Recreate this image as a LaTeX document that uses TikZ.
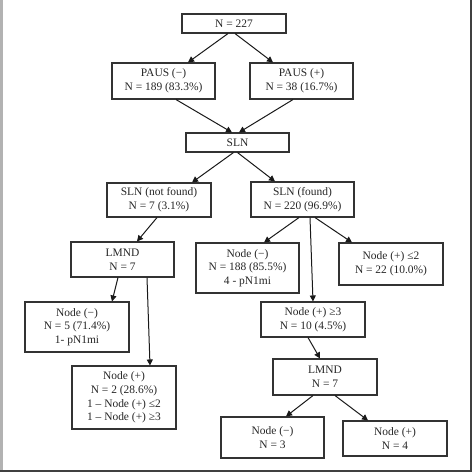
\documentclass[tikz,border=0pt]{standalone}
\usepackage{fontspec}
\setmainfont{Liberation Serif}
\usetikzlibrary{arrows.meta}
\begin{document}
\begin{tikzpicture}[x=1bp,y=-1bp,
  box/.style={draw=black!80,line width=1.1bp,inner sep=0pt,align=center,
    text=black!85,font=\fontsize{11.5}{13.8}\selectfont},
  arr/.style={draw=black!90,line width=1bp,-{Triangle[length=6bp,width=6bp]}}]
\useasboundingbox (0,0) rectangle (474,474);
\fill[black!30] (0,0) rectangle (2.5,472);
\draw[black!75,line width=1.6bp] (471,0) -- (471,471) -- (0,471);
\node[box,minimum width=104bp,minimum height=19bp] (top) at (234,23.5) {N = 227};
\node[box,minimum width=103bp,minimum height=36bp] (pm) at (163.5,81) {PAUS (−)\\N = 189 (83.3\%)};
\node[box,minimum width=103bp,minimum height=36bp] (pp) at (301.5,81) {PAUS (+)\\N = 38 (16.7\%)};
\node[box,minimum width=103bp,minimum height=19bp] (sln) at (237.5,142.5) {SLN};
\node[box,minimum width=104bp,minimum height=34bp] (snf) at (159,200) {SLN (not found)\\N = 7 (3.1\%)};
\node[box,minimum width=103bp,minimum height=35bp] (sf) at (302.5,199.5) {SLN (found)\\N = 220 (96.9\%)};
\node[box,minimum width=103bp,minimum height=35bp] (lmndL) at (122.5,259.5) {LMND\\N = 7};
\node[box,minimum width=103bp,minimum height=50bp] (n188) at (247.5,268) {Node (−)\\N = 188 (85.5\%)\\4 - pN1mi};
\node[box,minimum width=104bp,minimum height=42bp] (n22) at (391,264) {Node (+) ≤2\\N = 22 (10.0\%)};
\node[box,minimum width=104bp,minimum height=50bp] (n5) at (77,327) {Node (−)\\N = 5 (71.4\%)\\1- pN1mi};
\node[box,minimum width=104bp,minimum height=35bp] (n10) at (313,319.5) {Node (+) ≥3\\N = 10 (4.5\%)};
\node[box,minimum width=104bp,minimum height=63bp] (n2) at (124,397.5) {Node (+)\\N = 2 (28.6\%)\\1 – Node (+) ≤2\\1 – Node (+) ≥3};
\node[box,minimum width=104bp,minimum height=36bp] (lmndR) at (325,377) {LMND\\N = 7};
\node[box,minimum width=103bp,minimum height=41bp] (n3) at (272.5,437.5) {Node (−)\\N = 3};
\node[box,minimum width=104bp,minimum height=35bp] (n4) at (395,438.5) {Node (+)\\N = 4};
\draw[arr] ([xshift=-6bp]top.south) -- ([xshift=24.5bp]pm.north);
\draw[arr] ([xshift=1bp]top.south) -- ([xshift=-28.5bp]pp.north);
\draw[arr] ([xshift=12.5bp]pm.south) -- ([xshift=-5.5bp]sln.north);
\draw[arr] ([xshift=-8.5bp]pp.south) -- ([xshift=1.5bp]sln.north);
\draw[arr] ([xshift=-4bp]sln.south) -- ([xshift=33bp]snf.north);
\draw[arr] ([xshift=0bp]sln.south) -- ([xshift=-27.5bp]sf.north);
\draw[arr] ([xshift=-2bp]snf.south) -- ([xshift=14.5bp]lmndL.north);
\draw[arr] ([xshift=-3.5bp]sf.south) -- ([xshift=16.5bp]n188.north);
\draw[arr] ([xshift=7.5bp]sf.south) -- ([xshift=0bp]n10.north);
\draw[arr] ([xshift=12.5bp]sf.south) -- ([xshift=-39bp]n22.north);
\draw[arr] ([xshift=-4.5bp]lmndL.south) -- ([xshift=35bp]n5.north);
\draw[arr] ([xshift=24.5bp]lmndL.south) -- ([xshift=26bp]n2.north);
\draw[arr] ([xshift=-5bp]n10.south) -- ([xshift=-5bp]lmndR.north);
\draw[arr] ([xshift=-12bp]lmndR.south) -- ([xshift=13.5bp]n3.north);
\draw[arr] ([xshift=10bp]lmndR.south) -- ([xshift=-27bp]n4.north);
\end{tikzpicture}
\end{document}
